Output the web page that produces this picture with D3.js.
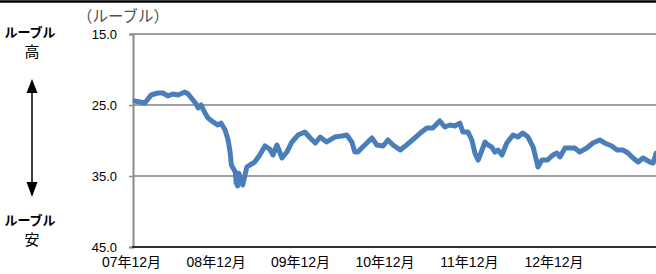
<!DOCTYPE html>
<html>
<head>
<meta charset="utf-8">
<script src="https://cdn.jsdelivr.net/npm/d3@7"></script>
<style>
  body { margin: 0; background: #fff; }
  svg { display: block; }
  text { font-family: "Liberation Sans", Arial, "Noto Sans CJK JP", sans-serif; }
</style>
</head>
<body>
<script>
// ruble per dollar (higher value = weaker ruble)
const dates = [
  "2007-12-18","2008-01-09","2008-01-30","2008-02-26","2008-03-26","2008-04-17","2008-05-08","2008-05-30",
  "2008-06-21","2008-07-21","2008-08-04","2008-08-25","2008-09-08","2008-09-16","2008-09-29","2008-10-16",
  "2008-10-29","2008-11-20","2008-12-11","2008-12-24","2009-01-11","2009-01-24","2009-02-02","2009-02-07",
  "2009-02-24","2009-02-28","2009-03-06","2009-03-11","2009-03-28","2009-04-15","2009-04-28","2009-05-19",
  "2009-06-10","2009-07-02","2009-07-23","2009-08-06","2009-08-23","2009-09-14","2009-10-05","2009-10-27",
  "2009-11-22","2009-12-22","2010-01-14","2010-02-05","2010-02-26","2010-03-26","2010-04-30","2010-05-30",
  "2010-06-21","2010-07-13","2010-07-26","2010-08-08","2010-08-29","2010-10-08","2010-10-29","2010-11-25",
  "2010-12-16","2011-01-07","2011-02-07","2011-03-07","2011-04-11","2011-05-11","2011-06-02","2011-06-28",
  "2011-07-28","2011-08-19","2011-09-10","2011-10-01","2011-10-23","2011-11-05","2011-11-27","2011-12-14",
  "2011-12-27","2012-01-10","2012-01-27","2012-02-09","2012-02-22","2012-03-09","2012-03-22","2012-04-05",
  "2012-04-22","2012-05-13","2012-06-09","2012-06-30","2012-07-21","2012-08-13","2012-09-04","2012-09-25",
  "2012-10-12","2012-11-04","2012-11-29","2012-12-16","2012-12-29","2013-01-20","2013-02-11","2013-03-03",
  "2013-03-24","2013-04-24","2013-05-20","2013-06-19","2013-07-10","2013-08-10","2013-09-02","2013-09-28",
  "2013-10-19","2013-11-10","2013-12-02","2013-12-23","2014-01-22","2014-02-05","2014-02-18"
];
const rubPerUsd = [
  24.44,24.58,24.72,23.59,23.31,23.31,23.73,23.45,
  23.59,23.17,23.45,24.30,24.86,25.42,25.00,26.13,
  26.83,27.39,27.82,27.54,28.52,29.93,31.76,33.45,
  34.44,35.99,36.41,34.60,36.27,33.73,33.45,33.03,
  32.04,30.77,31.20,32.04,30.63,32.46,31.62,30.21,
  29.23,28.80,29.65,30.35,29.51,30.21,29.51,29.37,
  29.23,30.21,31.62,31.62,30.92,29.65,30.63,30.77,
  29.93,30.63,31.34,30.63,29.65,28.80,28.24,28.24,
  27.25,28.10,27.82,27.96,27.54,28.80,28.80,29.93,
  31.76,32.75,31.34,30.21,30.63,30.92,31.62,31.34,
  32.04,30.35,29.23,29.51,28.94,29.51,30.92,33.73,
  32.75,32.75,32.04,31.76,32.32,31.06,31.06,31.06,
  31.62,31.06,30.35,29.93,30.35,30.77,31.34,31.34,
  31.76,32.46,33.03,32.46,33.03,33.17,31.76
];
const yTicks = [15, 25, 35, 45];
const xTickDates = ["2007-12-01","2008-12-01","2009-12-01","2010-12-01","2011-12-01","2012-12-01"];

const W = 656, H = 274;
const plotLeft = 133, plotTop = 34, plotBottom = 247;
const parse = d3.timeParse("%Y-%m-%d");
const data = dates.map((d, i) => ({ date: parse(d), value: rubPerUsd[i] }));

const svg = d3.select("body").append("svg")
  .attr("width", W)
  .attr("height", H);

// x: Dec 2007 .. Dec 2012 label positions, plot runs off the right edge
const x = d3.scaleTime()
  .domain([parse("2007-12-01"), parse("2012-12-01")])
  .range([131, 553.5]);

// inverted: ruble strong at top
const y = d3.scaleLinear()
  .domain([15, 45])
  .range([plotTop, plotBottom]);

// top black rule
svg.append("line")
  .attr("x1", 0).attr("x2", W)
  .attr("y1", 1.5).attr("y2", 1.5)
  .attr("stroke", "#000")
  .attr("stroke-width", 2.5);

// gridlines
svg.append("g")
  .selectAll("line")
  .data(yTicks.slice(0, 3))
  .join("line")
  .attr("x1", plotLeft).attr("x2", W)
  .attr("y1", d => y(d)).attr("y2", d => y(d))
  .attr("stroke", "#a0a0a0")
  .attr("stroke-width", 2);

// y axis
const yAxis = svg.append("g")
  .attr("transform", `translate(${plotLeft},0)`)
  .call(d3.axisLeft(y).tickValues(yTicks).tickFormat(d3.format(".1f")).tickSize(4).tickPadding(12));
yAxis.select(".domain").attr("stroke", "#8c8c8c").attr("stroke-width", 2);
yAxis.selectAll(".tick line").attr("stroke", "#8c8c8c").attr("stroke-width", 1.5);
yAxis.selectAll(".tick text")
  .attr("font-size", 13)
  .attr("fill", "#000")
  .attr("font-family", "'Liberation Sans', Arial, sans-serif");

// x axis (labels only) + baseline
svg.append("line")
  .attr("x1", plotLeft - 1).attr("x2", W)
  .attr("y1", y(45)).attr("y2", y(45))
  .attr("stroke", "#303030")
  .attr("stroke-width", 2);

const xAxis = svg.append("g")
  .attr("transform", `translate(0,${y(45)})`)
  .call(d3.axisBottom(x)
    .tickValues(xTickDates.map(parse))
    .tickFormat(d3.timeFormat("%y年%m月"))
    .tickSize(0)
    .tickPadding(10));
xAxis.select(".domain").remove();
xAxis.selectAll(".tick text")
  .attr("font-size", 14)
  .attr("fill", "#000")
  .attr("font-family", "'Liberation Sans', Arial, 'Noto Sans CJK JP', sans-serif");

// series
const line = d3.line()
  .x(d => x(d.date))
  .y(d => y(d.value));

svg.append("path")
  .datum(data)
  .attr("fill", "none")
  .attr("stroke", "#4a7ebb")
  .attr("stroke-width", 5)
  .attr("stroke-linejoin", "round")
  .attr("stroke-linecap", "round")
  .attr("d", line);

// unit label
svg.append("text")
  .attr("x", 77).attr("y", 22)
  .attr("font-size", 15.5)
  .attr("fill", "#505050")
  .attr("font-family", "'Noto Sans CJK JP', sans-serif")
  .text("（ルーブル）");

// side annotation
const side = svg.append("g")
  .attr("font-family", "'Noto Sans CJK JP', sans-serif")
  .attr("font-size", 13)
  .attr("font-weight", "bold")
  .attr("text-anchor", "middle")
  .attr("fill", "#000");
side.append("text").attr("x", 30).attr("y", 37).text("ルーブル");
side.append("text").attr("x", 32).attr("y", 57).attr("font-weight", "normal").attr("font-size", 15).text("高");
side.append("text").attr("x", 30).attr("y", 225).text("ルーブル");
side.append("text").attr("x", 32).attr("y", 245).attr("font-weight", "normal").attr("font-size", 15).text("安");

side.append("line")
  .attr("x1", 32).attr("x2", 32)
  .attr("y1", 90).attr("y2", 184)
  .attr("stroke", "#000")
  .attr("stroke-width", 1.5);
side.append("path")
  .attr("d", "M32,79 L26.5,93 L37.5,93 Z")
  .attr("fill", "#000");
side.append("path")
  .attr("d", "M32,197 L26.5,182 L37.5,182 Z")
  .attr("fill", "#000");
</script>
</body>
</html>
